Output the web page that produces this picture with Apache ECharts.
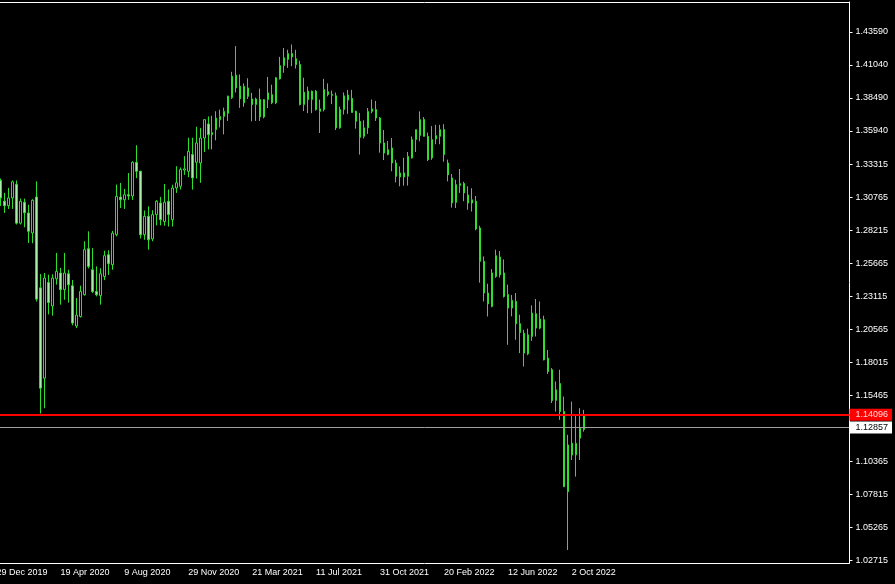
<!DOCTYPE html>
<html>
<head>
<meta charset="utf-8">
<title>GBPUSD, Weekly</title>
<script src="https://cdn.jsdelivr.net/npm/echarts@6/dist/echarts.min.js"></script>
<style>
  html, body { margin: 0; padding: 0; background: #000; }
  #chart { width: 895px; height: 584px; }
</style>
</head>
<body>
<div id="chart"></div>
<script>
// weekly bars, first one is the week of 29 Dec 2019
const opens = [
  1.3100, 1.3210, 1.3050, 1.3015, 1.3075, 1.3180, 1.2880, 1.3042, 1.2959, 1.2804,
  1.3082, 1.2380, 1.1682, 1.2422, 1.2240, 1.2450, 1.2495, 1.2366, 1.2489, 1.2396,
  1.2085, 1.2159, 1.2327, 1.2683, 1.2520, 1.2352, 1.2321, 1.2468, 1.2636, 1.2559,
  1.2791, 1.3082, 1.3061, 1.3100, 1.3090, 1.3350, 1.3281, 1.2791, 1.2933, 1.2758,
  1.2946, 1.3036, 1.2893, 1.3049, 1.2907, 1.3152, 1.3165, 1.3290, 1.3281, 1.3410,
  1.3351, 1.3345, 1.3538, 1.3647, 1.3564, 1.3602, 1.3679, 1.3705, 1.3728, 1.3849,
  1.4024, 1.3938, 1.3810, 1.3925, 1.3840, 1.3797, 1.3835, 1.3701, 1.3835, 1.3873,
  1.3810, 1.3995, 1.4098, 1.4145, 1.4191, 1.4150, 1.4106, 1.3797, 1.3900, 1.3835,
  1.3900, 1.3763, 1.3758, 1.3895, 1.3875, 1.3864, 1.3617, 1.3758, 1.3870, 1.3844,
  1.3744, 1.3667, 1.3551, 1.3617, 1.3744, 1.3758, 1.3693, 1.3500, 1.3410, 1.3461,
  1.3345, 1.3237, 1.3268, 1.3242, 1.3384, 1.3526, 1.3557, 1.3681, 1.3551, 1.3384,
  1.3531, 1.3551, 1.3603, 1.3345, 1.3229, 1.3041, 1.3172, 1.3186, 1.3098, 1.3036,
  1.3049, 1.2843, 1.2585, 1.2340, 1.2236, 1.2468, 1.2618, 1.2495, 1.2328, 1.2224,
  1.2275, 1.2103, 1.2030, 1.1870, 1.2004, 1.2180, 1.2069, 1.2134, 1.1837, 1.1747,
  1.1510, 1.1640, 1.1424, 1.0805, 1.1179, 1.1089, 1.1218, 1.1391
];
const highs = [
  1.3285, 1.3225, 1.3114, 1.3153, 1.3210, 1.3210, 1.3070, 1.3070, 1.3023, 1.3065,
  1.3203, 1.2487, 1.2495, 1.2482, 1.2485, 1.2650, 1.2534, 1.2650, 1.2520, 1.2441,
  1.2301, 1.2397, 1.2740, 1.2817, 1.2687, 1.2546, 1.2532, 1.2667, 1.2670, 1.2820,
  1.3178, 1.3191, 1.3145, 1.3267, 1.3358, 1.3482, 1.3285, 1.2978, 1.3010, 1.2980,
  1.3058, 1.3083, 1.3183, 1.3140, 1.3177, 1.3320, 1.3310, 1.3398, 1.3540, 1.3540,
  1.3625, 1.3616, 1.3680, 1.3705, 1.3710, 1.3745, 1.3758, 1.3773, 1.3865, 1.4050,
  1.4248, 1.4029, 1.3960, 1.4000, 1.3887, 1.3850, 1.3920, 1.3800, 1.4010, 1.3950,
  1.4010, 1.4165, 1.4234, 1.4220, 1.4261, 1.4220, 1.4135, 1.4004, 1.3935, 1.3905,
  1.3910, 1.3835, 1.3995, 1.3960, 1.3905, 1.3890, 1.3780, 1.3890, 1.3910, 1.3910,
  1.3750, 1.3732, 1.3675, 1.3770, 1.3835, 1.3825, 1.3700, 1.3600, 1.3515, 1.3538,
  1.3370, 1.3319, 1.3385, 1.3430, 1.3550, 1.3603, 1.3744, 1.3700, 1.3580, 1.3630,
  1.3640, 1.3640, 1.3645, 1.3371, 1.3260, 1.3215, 1.3299, 1.3200, 1.3165, 1.3150,
  1.3090, 1.2860, 1.2623, 1.2412, 1.2525, 1.2675, 1.2665, 1.2600, 1.2405, 1.2325,
  1.2340, 1.2172, 1.2056, 1.2065, 1.2245, 1.2294, 1.2275, 1.2165, 1.1900, 1.1760,
  1.1656, 1.1747, 1.1540, 1.1244, 1.1501, 1.1399, 1.1450, 1.1437
];
const lows = [
  1.3045, 1.3013, 1.2959, 1.2990, 1.2990, 1.2870, 1.2870, 1.2848, 1.2727, 1.2725,
  1.2275, 1.1409, 1.1450, 1.2175, 1.2165, 1.2405, 1.2250, 1.2288, 1.2266, 1.2090,
  1.2069, 1.2150, 1.2320, 1.2530, 1.2340, 1.2314, 1.2250, 1.2440, 1.2480, 1.2520,
  1.2778, 1.2997, 1.2990, 1.3060, 1.3060, 1.3228, 1.2762, 1.2752, 1.2675, 1.2740,
  1.2863, 1.2863, 1.2860, 1.2854, 1.2854, 1.3114, 1.3140, 1.3253, 1.3235, 1.3139,
  1.3225, 1.3192, 1.3430, 1.3450, 1.3450, 1.3520, 1.3620, 1.3566, 1.3670, 1.3840,
  1.3890, 1.3771, 1.3780, 1.3840, 1.3667, 1.3670, 1.3670, 1.3690, 1.3770, 1.3800,
  1.3800, 1.3990, 1.4042, 1.4080, 1.4093, 1.4075, 1.3790, 1.3746, 1.3730, 1.3730,
  1.3750, 1.3577, 1.3744, 1.3860, 1.3800, 1.3600, 1.3610, 1.3720, 1.3725, 1.3736,
  1.3610, 1.3410, 1.3535, 1.3570, 1.3730, 1.3670, 1.3425, 1.3368, 1.3405, 1.3281,
  1.3195, 1.3165, 1.3170, 1.3170, 1.3380, 1.3430, 1.3512, 1.3550, 1.3360, 1.3370,
  1.3490, 1.3490, 1.3355, 1.3203, 1.3000, 1.2997, 1.3114, 1.3050, 1.2984, 1.2970,
  1.2825, 1.2420, 1.2275, 1.2159, 1.2230, 1.2458, 1.2460, 1.2305, 1.1940, 1.2160,
  1.1979, 1.1876, 1.1772, 1.1860, 1.1970, 1.2004, 1.2060, 1.1820, 1.1715, 1.1490,
  1.1424, 1.1360, 1.0840, 1.0354, 1.1050, 1.0921, 1.1050, 1.1269
];
const closes = [
  1.3080, 1.3075, 1.3015, 1.3075, 1.3200, 1.2880, 1.3049, 1.2960, 1.2817, 1.3057,
  1.2293, 1.1605, 1.2456, 1.2267, 1.2456, 1.2507, 1.2366, 1.2495, 1.2404, 1.2108,
  1.2170, 1.2352, 1.2675, 1.2546, 1.2352, 1.2327, 1.2489, 1.2629, 1.2567, 1.2803,
  1.3087, 1.3061, 1.3100, 1.3090, 1.3350, 1.3281, 1.2791, 1.2933, 1.2752, 1.2946,
  1.3049, 1.2907, 1.3042, 1.2946, 1.3152, 1.3192, 1.3294, 1.3300, 1.3435, 1.3230,
  1.3500, 1.3538, 1.3680, 1.3564, 1.3580, 1.3692, 1.3705, 1.3744, 1.3862, 1.4016,
  1.3926, 1.3841, 1.3938, 1.3860, 1.3797, 1.3840, 1.3701, 1.3835, 1.3887, 1.3810,
  1.4004, 1.4098, 1.4158, 1.4191, 1.4165, 1.4106, 1.3797, 1.3892, 1.3835, 1.3900,
  1.3758, 1.3744, 1.3913, 1.3875, 1.3868, 1.3617, 1.3758, 1.3864, 1.3831, 1.3736,
  1.3667, 1.3543, 1.3617, 1.3744, 1.3763, 1.3693, 1.3500, 1.3422, 1.3448, 1.3345,
  1.3242, 1.3268, 1.3237, 1.3397, 1.3526, 1.3603, 1.3681, 1.3551, 1.3371, 1.3526,
  1.3557, 1.3603, 1.3410, 1.3255, 1.3036, 1.3178, 1.3186, 1.3114, 1.3036, 1.3061,
  1.2835, 1.2585, 1.2340, 1.2257, 1.2495, 1.2629, 1.2481, 1.2314, 1.2224, 1.2284,
  1.2103, 1.2036, 1.1876, 1.2017, 1.2185, 1.2069, 1.2139, 1.1824, 1.1734, 1.1510,
  1.1592, 1.1424, 1.0844, 1.1166, 1.1089, 1.1179, 1.1296, 1.12857
];

// one x-axis label every 16 weeks
const tickLabels = [
  '29 Dec 2019', '19 Apr 2020', '9 Aug 2020', '29 Nov 2020', '21 Mar 2021',
  '11 Jul 2021', '31 Oct 2021', '20 Feb 2022', '12 Jun 2022', '2 Oct 2022'
];
const priceLabels = [
  1.43590, 1.41040, 1.38490, 1.35940, 1.33315, 1.30765, 1.28215, 1.25665,
  1.23115, 1.20565, 1.18015, 1.15465, 1.10365, 1.07815, 1.05265, 1.02715
];
const levelLine = 1.14096;
const bidLine = 1.12857;
const weekCount = 214; // visible slots incl. empty space on the right

const weeks = [];
for (let i = 0; i < weekCount; i++) weeks.push(i);

const candles = opens.map((o, i) => [o, closes[i], lows[i], highs[i]]);

const labelStep = 16;
const showTick = idx => idx % labelStep === 0 && idx / labelStep < tickLabels.length;

const font = 'Liberation Sans';
const chart = echarts.init(document.getElementById('chart'));
chart.setOption({
  animation: false,
  backgroundColor: '#000000',
  // half-pixel offset keeps the 1px wicks crisp
  grid: { left: -5.5, right: 45.5, top: 2, bottom: 21, outerBoundsMode: 'none', containLabel: false },
  xAxis: [{
    type: 'category',
    data: weeks,
    boundaryGap: true,
    axisLine: { lineStyle: { color: '#ffffff', width: 1 } },
    axisTick: { interval: showTick, alignWithLabel: true, length: 4, lineStyle: { color: '#ffffff' } },
    axisLabel: {
      interval: showTick,
      formatter: (v, idx) => tickLabels[idx / labelStep] || '',
      align: 'left',
      color: '#ffffff',
      fontFamily: font,
      fontSize: 9,
      margin: 5
    },
    splitLine: { show: false }
  }, {
    type: 'category',
    data: weeks,
    position: 'top',
    axisLine: { lineStyle: { color: '#ffffff', width: 1 } },
    axisTick: { show: false },
    axisLabel: { show: false }
  }],
  yAxis: {
    type: 'value',
    position: 'right',
    min: 1.02537,
    max: 1.45892,
    axisLine: { show: true, lineStyle: { color: '#ffffff', width: 1 } },
    axisTick: { show: true, length: 3, customValues: priceLabels, lineStyle: { color: '#ffffff' } },
    axisLabel: {
      customValues: priceLabels,
      formatter: v => v.toFixed(5),
      color: '#ffffff',
      fontFamily: font,
      fontSize: 9,
      margin: 6
    },
    splitLine: { show: false }
  },
  series: [{
    type: 'candlestick',
    data: candles,
    barWidth: 2,
    clip: true,
    itemStyle: {
      color: '#000000',
      color0: '#a8eea8',
      borderColor: '#2ee02e',
      borderColor0: '#2ee02e',
      borderWidth: 1
    },
    markLine: {
      silent: true,
      symbol: 'none',
      animation: false,
      data: [
        {
          yAxis: levelLine,
          lineStyle: { color: '#ff0000', width: 2, type: 'solid' },
          label: {
            position: 'end',
            distance: 0,
            formatter: levelLine.toFixed(5),
            backgroundColor: '#ff0000',
            color: '#ffd8d8',
            fontFamily: font,
            fontSize: 9,
            padding: [2, 4, 1, 6]
          }
        },
        {
          yAxis: bidLine,
          lineStyle: { color: '#a0a0a0', width: 1, type: 'solid' },
          label: {
            position: 'end',
            distance: 0,
            formatter: bidLine.toFixed(5),
            backgroundColor: '#ffffff',
            color: '#000000',
            fontFamily: font,
            fontSize: 9,
            padding: [2, 4, 1, 6]
          }
        }
      ]
    }
  }]
});
</script>
</body>
</html>
